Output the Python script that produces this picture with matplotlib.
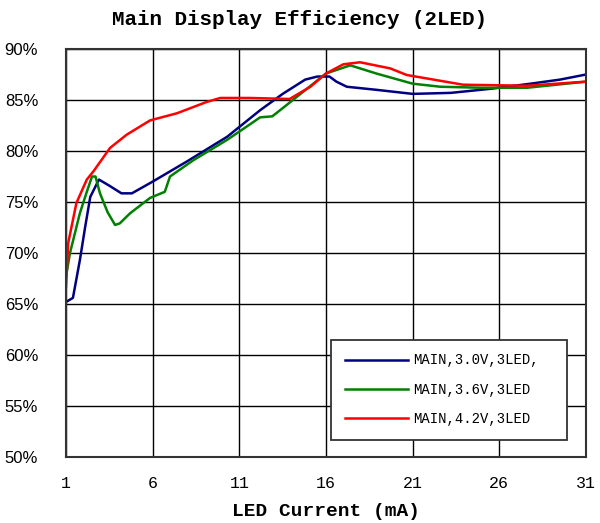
import matplotlib
matplotlib.use("Agg")
import matplotlib.pyplot as plt
from matplotlib.ticker import FuncFormatter

title = "Main Display Efficiency (2LED)"
xlabel = "LED Current (mA)"
xticks = [1, 6, 11, 16, 21, 26, 31]
yticks = [50, 55, 60, 65, 70, 75, 80, 85, 90]

labels = ["MAIN,3.0V,3LED,", "MAIN,3.6V,3LED", "MAIN,4.2V,3LED"]
colors = ["#000080", "#008000", "#ff0000"]

x_30 = [1.0, 1.4, 1.8, 2.1, 2.4, 2.9, 3.5, 4.2, 4.8, 6.0, 8.0, 10.3, 12.2, 13.5, 14.8, 15.5, 16.2, 16.6, 17.2, 18.9, 21.0, 23.2, 25.5, 27.8, 29.5, 31.0]
y_30 = [65.2, 65.6, 69.3, 72.5, 75.5, 77.2, 76.6, 75.85, 75.85, 77.0, 79.0, 81.4, 84.0, 85.6, 87.0, 87.3, 87.3, 86.8, 86.3, 86.0, 85.6, 85.7, 86.1, 86.6, 87.0, 87.5]

x_36 = [1.0, 1.23, 1.8, 2.2, 2.5, 2.7, 2.96, 3.4, 3.83, 4.1, 4.7, 5.85, 6.7, 7.0, 8.35, 10.3, 11.6, 12.2, 12.9, 13.5, 16.0, 17.4, 18.9, 21.0, 22.6, 25.0, 27.6, 31.0]
y_36 = [67.7, 70.0, 73.9, 76.0, 77.5, 77.5, 75.85, 74.0, 72.75, 72.9, 73.9, 75.4, 76.0, 77.5, 79.1, 81.1, 82.6, 83.3, 83.4, 84.2, 87.6, 88.4, 87.6, 86.6, 86.3, 86.2, 86.2, 86.8]

x_42 = [1.0, 1.13, 1.6, 2.2, 2.58, 3.54, 4.5, 5.85, 7.4, 9.1, 9.9, 11.6, 13.9, 15.1, 16.0, 17.0, 17.96, 19.7, 20.66, 22.2, 23.9, 27.6, 31.0]
y_42 = [66.7, 71.0, 74.9, 77.2, 78.0, 80.3, 81.6, 83.0, 83.7, 84.8, 85.2, 85.2, 85.1, 86.3, 87.6, 88.5, 88.7, 88.1, 87.45, 87.0, 86.5, 86.4, 86.8]

series = [(x_30, y_30), (x_36, y_36), (x_42, y_42)]

fig = plt.figure(figsize=(6.0, 5.23), dpi=100)
ax = fig.add_axes([0.11, 0.1262, 0.8667, 0.7801])

for (xs, ys), lab, c in zip(series, labels, colors):
    ax.plot(xs, ys, color=c, lw=1.8, label=lab)

ax.set_xlim(1, 31)
ax.set_ylim(50, 90)
ax.set_xticks(xticks)
ax.set_yticks(yticks)
ax.yaxis.set_major_formatter(FuncFormatter(lambda v, p: f"{int(v)}%"))
ax.grid(True, color="black", lw=1.0)
ax.tick_params(length=0)
for lab in ax.get_xticklabels():
    lab.set_family("Liberation Mono")
    lab.set_fontsize(12)
for lab in ax.get_yticklabels():
    lab.set_family("Liberation Sans")
    lab.set_fontsize(12)
ax.tick_params(axis="y", pad=20)
ax.tick_params(axis="x", pad=14)
for s in ax.spines.values():
    s.set_color("#333333")
    s.set_linewidth(1.5)

ax.set_xlabel(xlabel, family="Liberation Mono", fontweight="bold", fontsize=14, labelpad=8)
fig.text(0.5, 0.962, title, ha="center", va="center", family="Liberation Mono", fontweight="bold", fontsize=15)

leg = ax.legend(loc="lower left", bbox_to_anchor=(0.51, 0.042, 0.453, 0.245), mode="expand",
                borderaxespad=0.0,
                frameon=True, fancybox=False, framealpha=1, edgecolor="#333333",
                prop={"family": "Liberation Mono", "size": 10}, handlelength=4.5,
                labelspacing=1.1, borderpad=1.0, handletextpad=0.4)
leg.get_frame().set_linewidth(1.3)

fig.savefig("out.png", dpi=100)
